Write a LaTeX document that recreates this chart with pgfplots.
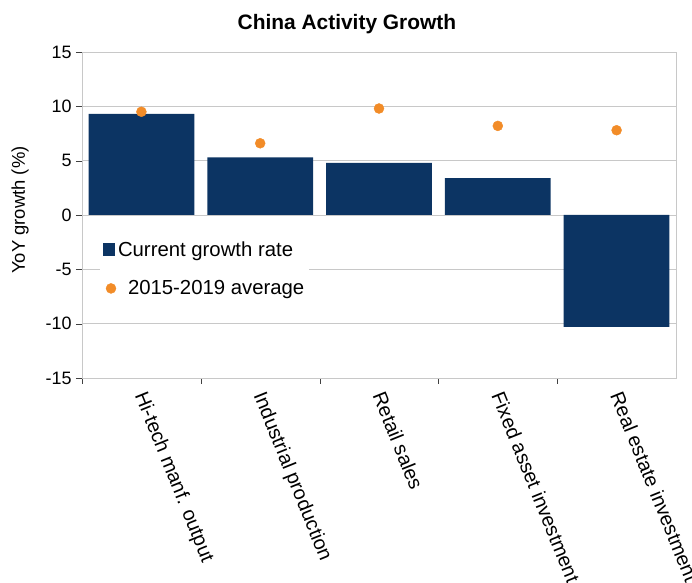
\documentclass[border=0pt]{standalone}
\usepackage{fontspec}
\setmainfont{Liberation Sans}
\usepackage{pgfplots}
\pgfplotsset{compat=1.18}
\definecolor{barblue}{RGB}{12,52,99}
\definecolor{dotorange}{RGB}{242,140,40}
\definecolor{gridgray}{RGB}{200,200,200}
\begin{document}
\begin{tikzpicture}[x=1bp,y=1bp]
\path[use as bounding box] (0,0) rectangle (692,583);
\begin{axis}[
  at={(82bp,205bp)}, anchor=south west,
  width=594bp, height=326bp, scale only axis,
  xmin=-0.5, xmax=4.5, ymin=-15, ymax=15,
  ytick={-15,-10,...,15},
  xtick={0,1,2,3,4},
  xticklabels={Hi-tech manf. output, Industrial production, Retail sales, Fixed asset investment, Real estate investment},
  minor xtick={-0.5,0.5,1.5,2.5,3.5},
  xtick pos=bottom, ytick pos=left,
  major x tick style={draw=none},
  minor x tick style={draw=black!75},
  y tick style={draw=black!75},
  tick align=outside,
  major tick length=6bp, minor tick length=6bp,
  ymajorgrids, grid style={gridgray, line width=0.8bp},
  axis line style={gridgray, line width=0.8bp},
  /pgf/number format/assume math mode=true,
  tick label style={font=\fontsize{18}{20}\selectfont, black},
  yticklabel style={xshift=-1bp},
  xticklabel style={xshift=8.6bp, yshift=-1.5bp, rotate=-68, anchor=north west, font=\fontsize{20}{22}\selectfont},
  title={\textbf{China Activity Growth}},
  title style={at={(axis description cs:0.446,1.067)}, anchor=center, yshift=0pt, font=\fontsize{21}{24}\selectfont},
  ylabel={YoY growth (\%)},
  ylabel style={at={(axis description cs:-0.104,0.515)}, anchor=center, font=\fontsize{18.5}{22}\selectfont},
  legend style={at={(axis description cs:0.03,0.435)}, anchor=north west, draw=none, fill=white,
    font=\fontsize{20.4}{23}\selectfont, row sep=19bp, inner sep=3bp},
  legend cell align=left,
]
\addplot[ybar, bar width=0.89, fill=barblue, draw=none,
  legend image code/.code={\path[draw=none, fill=none] (0bp,-7bp) rectangle (23bp,7bp); \fill[barblue] (0bp,-6.5bp) rectangle (12bp,6.5bp);}]
  coordinates {(0,9.3) (1,5.3) (2,4.8) (3,3.4) (4,-10.3)};
\addlegendentry{\hspace{-10bp}Current growth rate}
\addplot[only marks, mark=*, mark size=5bp, dotorange, mark options={draw=dotorange, fill=dotorange},
  legend image code/.code={\path[draw=none, fill=none] (0bp,-7bp) rectangle (23bp,7bp); \fill[dotorange] (8bp,0bp) circle (5bp);}]
  coordinates {(0,9.5) (1,6.6) (2,9.8) (3,8.2) (4,7.8)};
\addlegendentry{2015-2019 average}
\end{axis}
\end{tikzpicture}
\end{document}
